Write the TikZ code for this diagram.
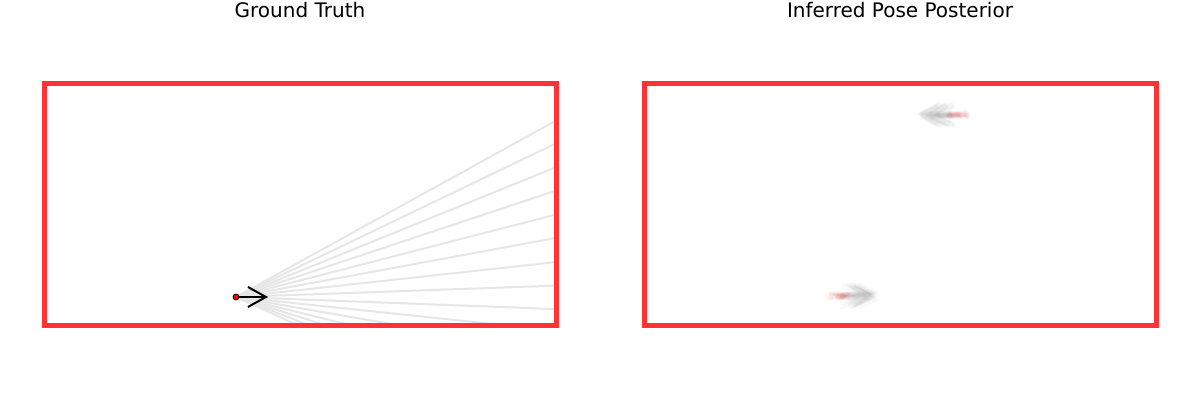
\documentclass[tikz,border=0pt]{standalone}
\usepackage{fontspec}
\setmainfont{DejaVu Sans}
\usetikzlibrary{arrows.meta}
\definecolor{WallRed}{HTML}{FF3333}
\definecolor{RayGray}{HTML}{E6E6E6}

\begin{document}
\begin{tikzpicture}[
    x=0.5pt,y=-0.5pt,
    title/.style={font=\fontsize{10}{12}\selectfont,anchor=base,inner sep=0pt},
    wall/.style={draw=WallRed,line width=2.5pt},
    ray/.style={draw=RayGray,line width=1pt},
    heading/.style={-{Straight Barb[length=9pt,width=10pt]},line width=1pt,draw=black},
    robot/.style={circle,fill=red,draw=black,line width=0.4pt,inner sep=0pt,minimum size=3pt},
    sample/.style={heading,draw=black!60,draw opacity=0.02},
    samplebody/.style={fill=red,fill opacity=0.02}
  ]
    \useasboundingbox (0,0) rectangle (1200,400);

    % titles
    \node[title] (gttitle) at (300,18) {Ground Truth};
    \node[title] (posttitle) at (900,18) {Inferred Pose Posterior};

    % ground truth: sensor rays first, under the walls
    \coordinate (gtpose) at (236,297);
    \foreach \y [count=\i] in {121.7,144.3,168,191.3,215,238.3,262.3,285.7,309}
      \coordinate (hitr\i) at (554,\y);
    \foreach \x [count=\i] in {295,306,321.7,346,391,493}
      \coordinate (hitb\i) at (\x,324);
    \foreach \i in {1,...,9}
      \draw[ray] (gtpose) -- (hitr\i);
    \foreach \i in {1,...,6}
      \draw[ray] (gtpose) -- (hitb\i);

    \draw[wall] (44,84) rectangle (556,326);
    \coordinate (gtfront) at (268,297);
    \draw[heading] (gtpose) -- (gtfront);
    \node[robot] (gt) at (gtpose) {};

    % posterior: two modes, the true one and its mirror
    \draw[wall] (644,84) rectangle (1156,326);
    \pgfmathsetseed{7}
    \foreach \k in {1,...,50}{
      \pgfmathsetmacro{\px}{958+10*rand}
      \pgfmathsetmacro{\py}{115+2.5*rand}
      \pgfmathsetmacro{\pa}{180+6*rand}
      \begin{scope}[shift={(\px,\py)},rotate=\pa]
        \draw[sample] (0,0) -- (32,0);
        \fill[samplebody] (0,0) circle (3);
      \end{scope}
    }
    \foreach \k in {1,...,50}{
      \pgfmathsetmacro{\px}{838+10*rand}
      \pgfmathsetmacro{\py}{296+2.5*rand}
      \pgfmathsetmacro{\pa}{6*rand}
      \begin{scope}[shift={(\px,\py)},rotate=\pa]
        \draw[sample] (0,0) -- (32,0);
        \fill[samplebody] (0,0) circle (3);
      \end{scope}
    }
\end{tikzpicture}
\end{document}
